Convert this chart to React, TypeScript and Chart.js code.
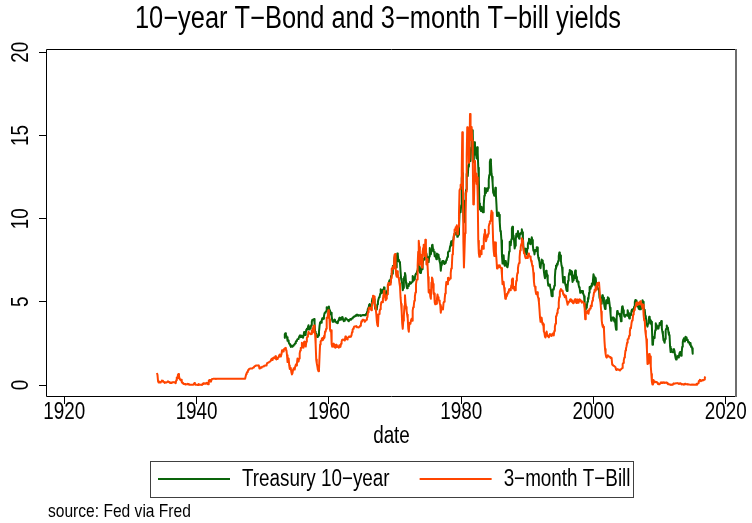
import React, { useEffect, useRef } from "react";
import { Chart, registerables } from "chart.js";

Chart.register(...registerables);

// ---------- text ----------
const TITLE = "10\u2212year T\u2212Bond and 3\u2212month T\u2212bill yields";
const X_TITLE = "date";
const NOTE = "source: Fed via Fred";
const SERIES_LABELS = ["Treasury 10\u2212year", "3\u2212month T\u2212Bill"];
const SERIES_COLORS = ["#0a640a", "#ff4500"];

// ---------- axes ----------
const X_TICKS = [1920, 1940, 1960, 1980, 2000, 2020];
const Y_TICKS = [0, 5, 10, 15, 20];
const X_MIN = 1917.23;
const X_MAX = 2021.7;
const Y_MIN = -0.72;
const Y_MAX = 20.2;

// ---------- 10-year Treasury, monthly, starting April 1953 ----------
const BOND_START = 1953 + 3 / 12;
const bond1950s = [
  2.83, 3.05, 3.11, 2.93, 2.95, 2.87, 2.66, 2.68, 2.59,
  2.48, 2.47, 2.37, 2.29, 2.37, 2.38, 2.30, 2.36, 2.38, 2.43, 2.48, 2.51,
  2.61, 2.65, 2.68, 2.75, 2.76, 2.78, 2.90, 2.97, 2.97, 2.88, 2.89, 2.96,
  2.90, 2.84, 2.96, 3.18, 3.07, 3.00, 3.11, 3.33, 3.38, 3.34, 3.49, 3.59,
  3.46, 3.34, 3.41, 3.48, 3.60, 3.80, 3.93, 3.93, 3.92, 3.97, 3.72, 3.21,
  3.09, 3.05, 2.98, 2.88, 2.92, 2.97, 3.20, 3.54, 3.76, 3.80, 3.74, 3.86,
  4.02, 3.96, 3.99, 4.12, 4.31, 4.34, 4.40, 4.43, 4.68, 4.53, 4.53, 4.69,
];
const bond1960s = [
  4.72, 4.49, 4.25, 4.28, 4.35, 4.15, 3.90, 3.80, 3.80, 3.89, 3.93, 3.84,
  3.84, 3.78, 3.74, 3.78, 3.71, 3.88, 3.92, 4.04, 3.98, 3.92, 3.94, 4.06,
  4.08, 4.04, 3.93, 3.84, 3.87, 3.91, 4.01, 3.98, 3.98, 3.93, 3.92, 3.86,
  3.83, 3.92, 3.93, 3.97, 3.93, 3.99, 4.02, 4.00, 4.08, 4.11, 4.12, 4.13,
  4.17, 4.15, 4.22, 4.23, 4.20, 4.17, 4.19, 4.19, 4.20, 4.19, 4.15, 4.18,
  4.19, 4.21, 4.21, 4.20, 4.21, 4.21, 4.20, 4.25, 4.29, 4.35, 4.45, 4.62,
  4.61, 4.83, 4.87, 4.75, 4.78, 4.81, 5.02, 5.22, 5.18, 5.01, 5.16, 4.84,
  4.58, 4.63, 4.54, 4.59, 4.85, 5.02, 5.16, 5.28, 5.30, 5.48, 5.75, 5.70,
  5.53, 5.56, 5.74, 5.64, 5.87, 5.72, 5.50, 5.42, 5.46, 5.58, 5.70, 6.03,
  6.04, 6.19, 6.30, 6.17, 6.32, 6.57, 6.72, 6.69, 7.16, 7.10, 7.14, 7.65,
];
const bond1970s = [
  7.79, 7.24, 7.07, 7.39, 7.91, 7.84, 7.46, 7.53, 7.39, 7.33, 6.84, 6.39,
  6.24, 6.11, 5.70, 5.83, 6.39, 6.52, 6.73, 6.58, 6.14, 5.93, 5.81, 5.93,
  5.95, 6.08, 6.07, 6.19, 6.13, 6.11, 6.11, 6.21, 6.55, 6.48, 6.28, 6.36,
  6.46, 6.64, 6.71, 6.67, 6.85, 6.90, 7.13, 7.40, 7.09, 6.79, 6.73, 6.74,
  6.99, 6.96, 7.21, 7.51, 7.58, 7.54, 7.81, 8.04, 8.04, 7.90, 7.68, 7.43,
  7.50, 7.39, 7.73, 8.23, 8.06, 7.86, 8.06, 8.40, 8.43, 8.14, 8.05, 8.00,
  7.74, 7.79, 7.73, 7.56, 7.90, 7.86, 7.83, 7.77, 7.59, 7.41, 7.29, 6.87,
  7.21, 7.39, 7.46, 7.37, 7.46, 7.28, 7.33, 7.40, 7.34, 7.52, 7.58, 7.69,
  7.96, 8.03, 8.04, 8.15, 8.35, 8.46, 8.64, 8.41, 8.42, 8.64, 8.81, 9.01,
  9.10, 9.10, 9.12, 9.18, 9.25, 8.91, 8.95, 9.03, 9.33, 10.30, 10.65, 10.39,
];
const bond1980s = [
  10.80, 12.41, 12.75, 11.47, 10.18, 9.78, 10.25, 11.10, 11.51, 11.75, 12.68, 12.84,
  12.57, 13.19, 13.12, 13.68, 14.10, 13.47, 14.28, 14.94, 15.32, 15.15, 13.39, 13.72,
  14.59, 14.43, 13.86, 13.87, 13.62, 14.30, 13.95, 13.06, 12.34, 10.91, 10.55, 10.54,
  10.46, 10.72, 10.51, 10.40, 10.38, 10.85, 11.38, 11.85, 11.65, 11.54, 11.69, 11.83,
  11.67, 11.84, 12.32, 12.63, 13.41, 13.56, 13.36, 12.72, 12.52, 12.16, 11.57, 11.50,
  11.38, 11.51, 11.86, 11.43, 10.85, 10.16, 10.31, 10.33, 10.37, 10.24, 9.78, 9.26,
  9.19, 8.70, 7.78, 7.30, 7.71, 7.80, 7.30, 7.17, 7.45, 7.43, 7.25, 7.11,
  7.08, 7.25, 7.25, 8.02, 8.61, 8.40, 8.45, 8.76, 9.42, 9.52, 8.86, 8.99,
  8.67, 8.21, 8.37, 8.72, 9.09, 8.92, 9.06, 9.26, 8.98, 8.80, 8.96, 9.11,
  9.09, 9.17, 9.36, 9.18, 8.86, 8.28, 8.02, 8.11, 8.19, 8.01, 7.87, 7.84,
];
const bond1990s = [
  8.21, 8.47, 8.59, 8.79, 8.76, 8.48, 8.47, 8.75, 8.89, 8.72, 8.39, 8.08,
  8.09, 7.85, 8.11, 8.04, 8.07, 8.28, 8.27, 7.90, 7.65, 7.53, 7.42, 7.09,
  7.03, 7.34, 7.54, 7.48, 7.39, 7.26, 6.84, 6.59, 6.42, 6.59, 6.87, 6.77,
  6.60, 6.26, 5.98, 5.97, 6.04, 5.96, 5.81, 5.68, 5.36, 5.33, 5.72, 5.77,
  5.75, 5.97, 6.48, 6.97, 7.18, 7.10, 7.30, 7.24, 7.46, 7.74, 7.96, 7.81,
  7.78, 7.47, 7.20, 7.06, 6.63, 6.17, 6.28, 6.49, 6.20, 6.04, 5.93, 5.71,
  5.65, 5.81, 6.27, 6.51, 6.74, 6.91, 6.87, 6.64, 6.83, 6.53, 6.20, 6.30,
  6.58, 6.42, 6.69, 6.89, 6.71, 6.49, 6.22, 6.30, 6.21, 6.03, 5.88, 5.81,
  5.54, 5.57, 5.65, 5.64, 5.65, 5.50, 5.46, 5.34, 4.81, 4.53, 4.83, 4.65,
  4.72, 5.00, 5.23, 5.18, 5.54, 5.90, 5.79, 5.94, 5.92, 6.11, 6.03, 6.28,
];
const bond2000s = [
  6.66, 6.52, 6.26, 5.99, 6.44, 6.10, 6.05, 5.83, 5.80, 5.74, 5.72, 5.24,
  5.16, 5.10, 4.89, 5.14, 5.39, 5.28, 5.24, 4.97, 4.73, 4.57, 4.65, 5.09,
  5.04, 4.91, 5.28, 5.21, 5.16, 4.93, 4.65, 4.26, 3.87, 3.94, 4.05, 4.03,
  4.05, 3.90, 3.81, 3.96, 3.57, 3.33, 3.98, 4.45, 4.27, 4.29, 4.30, 4.27,
  4.15, 4.08, 3.83, 4.35, 4.72, 4.73, 4.50, 4.28, 4.13, 4.10, 4.19, 4.23,
  4.22, 4.17, 4.50, 4.34, 4.14, 4.00, 4.18, 4.26, 4.20, 4.46, 4.54, 4.47,
  4.42, 4.57, 4.72, 4.99, 5.11, 5.11, 5.09, 4.88, 4.72, 4.73, 4.60, 4.56,
  4.76, 4.72, 4.56, 4.69, 4.75, 5.10, 5.00, 4.67, 4.52, 4.53, 4.15, 4.10,
  3.74, 3.74, 3.51, 3.68, 3.88, 4.10, 4.01, 3.89, 3.69, 3.81, 3.53, 2.42,
  2.52, 2.87, 2.82, 2.93, 3.29, 3.72, 3.56, 3.59, 3.40, 3.39, 3.40, 3.59,
];
const bond2010s = [
  3.73, 3.69, 3.73, 3.85, 3.42, 3.20, 3.01, 2.70, 2.65, 2.54, 2.76, 3.29,
  3.39, 3.58, 3.41, 3.46, 3.17, 3.00, 3.00, 2.30, 1.98, 2.15, 2.01, 1.98,
  1.97, 1.97, 2.17, 2.05, 1.80, 1.62, 1.53, 1.68, 1.72, 1.75, 1.65, 1.72,
  1.91, 1.98, 1.96, 1.76, 1.93, 2.30, 2.58, 2.74, 2.81, 2.62, 2.72, 2.90,
  2.86, 2.71, 2.72, 2.71, 2.56, 2.60, 2.54, 2.42, 2.53, 2.30, 2.33, 2.21,
  1.88,
];

// ---------- 3-month T-bill, monthly, starting January 1934 ----------
const TBILL_START = 1934;
const tbill1930s = [
  0.72, 0.62, 0.24, 0.15, 0.16, 0.15, 0.15, 0.19, 0.21, 0.27, 0.25, 0.23,
  0.19, 0.17, 0.13, 0.15, 0.16, 0.15, 0.15, 0.19, 0.22, 0.20, 0.17, 0.15,
  0.12, 0.15, 0.12, 0.15, 0.17, 0.17, 0.16, 0.18, 0.18, 0.14, 0.11, 0.28,
  0.45, 0.41, 0.60, 0.66, 0.55, 0.40, 0.32, 0.30, 0.32, 0.18, 0.13, 0.10,
  0.08, 0.06, 0.06, 0.05, 0.03, 0.05, 0.05, 0.05, 0.07, 0.06, 0.03, 0.01,
  0.01, 0.01, 0.01, 0.01, 0.01, 0.01, 0.02, 0.02, 0.12, 0.04, 0.02, 0.01,
];
const tbill1940s = [
  0.01, 0.01, 0.00, 0.00, 0.06, 0.01, 0.01, 0.02, 0.02, 0.01, 0.00, 0.00,
  0.10, 0.06, 0.09, 0.10, 0.07, 0.09, 0.13, 0.11, 0.06, 0.05, 0.25, 0.30,
  0.23, 0.30, 0.20, 0.30, 0.36, 0.36, 0.37, 0.37, 0.37, 0.37, 0.37, 0.36,
  0.37, 0.37, 0.37, 0.37, 0.37, 0.37, 0.37, 0.37, 0.37, 0.37, 0.37, 0.37,
  0.37, 0.37, 0.37, 0.37, 0.37, 0.37, 0.37, 0.37, 0.37, 0.37, 0.37, 0.37,
  0.37, 0.37, 0.37, 0.37, 0.37, 0.37, 0.37, 0.37, 0.37, 0.37, 0.37, 0.37,
  0.37, 0.37, 0.37, 0.37, 0.37, 0.37, 0.37, 0.37, 0.37, 0.37, 0.37, 0.37,
  0.38, 0.38, 0.38, 0.38, 0.38, 0.38, 0.66, 0.74, 0.79, 0.85, 0.92, 0.95,
  0.97, 1.00, 1.00, 1.00, 1.00, 1.00, 1.00, 1.05, 1.09, 1.12, 1.14, 1.16,
  1.17, 1.17, 1.17, 1.17, 1.17, 1.16, 0.99, 1.02, 1.06, 1.04, 1.07, 1.10,
];
const tbill1950s = [
  1.10, 1.12, 1.14, 1.16, 1.17, 1.17, 1.17, 1.21, 1.32, 1.33, 1.36, 1.37,
  1.39, 1.39, 1.42, 1.52, 1.58, 1.50, 1.59, 1.64, 1.65, 1.61, 1.61, 1.73,
  1.57, 1.54, 1.59, 1.57, 1.67, 1.70, 1.81, 1.83, 1.71, 1.74, 1.85, 2.09,
  2.04, 2.02, 2.08, 2.18, 2.20, 2.23, 2.10, 2.09, 1.79, 1.38, 1.44, 1.60,
  1.18, 0.97, 1.03, 0.96, 0.76, 0.64, 0.72, 0.92, 1.01, 0.98, 0.93, 1.14,
  1.23, 1.17, 1.28, 1.59, 1.45, 1.41, 1.60, 1.90, 2.07, 2.23, 2.24, 2.54,
  2.41, 2.32, 2.25, 2.60, 2.61, 2.49, 2.31, 2.60, 2.84, 2.90, 2.99, 3.21,
  3.11, 3.10, 3.08, 3.06, 3.06, 3.29, 3.16, 3.37, 3.53, 3.58, 3.29, 3.04,
  2.44, 1.53, 1.30, 1.13, 0.91, 0.83, 0.91, 1.69, 2.44, 2.63, 2.67, 2.77,
  2.82, 2.70, 2.80, 2.95, 2.84, 3.21, 3.20, 3.38, 4.04, 4.05, 4.15, 4.49,
];
const tbill1960s = [
  4.35, 3.96, 3.31, 3.23, 3.29, 2.46, 2.30, 2.30, 2.48, 2.30, 2.37, 2.25,
  2.24, 2.42, 2.39, 2.29, 2.29, 2.33, 2.24, 2.39, 2.28, 2.30, 2.48, 2.60,
  2.72, 2.73, 2.72, 2.73, 2.68, 2.73, 2.92, 2.82, 2.78, 2.74, 2.83, 2.87,
  2.91, 2.92, 2.89, 2.90, 2.92, 2.99, 3.18, 3.32, 3.38, 3.45, 3.52, 3.52,
  3.52, 3.53, 3.54, 3.47, 3.48, 3.48, 3.46, 3.50, 3.53, 3.57, 3.64, 3.84,
  3.81, 3.93, 3.93, 3.93, 3.89, 3.80, 3.84, 3.84, 3.92, 4.03, 4.09, 4.38,
  4.59, 4.65, 4.59, 4.62, 4.64, 4.50, 4.80, 4.96, 5.37, 5.35, 5.32, 4.96,
  4.72, 4.56, 4.26, 3.84, 3.60, 3.54, 4.21, 4.27, 4.42, 4.56, 4.73, 4.97,
  5.00, 4.98, 5.17, 5.38, 5.66, 5.52, 5.31, 5.09, 5.19, 5.35, 5.45, 5.96,
  6.14, 6.12, 6.02, 6.11, 6.04, 6.44, 7.00, 6.98, 7.09, 7.00, 7.24, 7.82,
];
const tbill1970s = [
  7.87, 7.13, 6.63, 6.51, 6.84, 6.68, 6.45, 6.41, 6.12, 5.91, 5.28, 4.87,
  4.44, 3.70, 3.38, 3.86, 4.14, 4.75, 5.40, 4.94, 4.69, 4.46, 4.22, 4.01,
  3.38, 3.20, 3.73, 3.71, 3.69, 3.91, 3.98, 3.86, 4.47, 4.68, 4.77, 5.06,
  5.31, 5.56, 6.05, 6.29, 6.35, 7.19, 8.01, 8.67, 8.29, 7.22, 7.83, 7.45,
  7.76, 7.06, 7.99, 8.23, 8.43, 8.14, 7.75, 8.74, 8.36, 7.24, 7.58, 7.18,
  6.49, 5.58, 5.54, 5.69, 5.32, 5.19, 6.16, 6.46, 6.38, 6.08, 5.47, 5.50,
  4.96, 4.85, 5.05, 4.88, 5.18, 5.44, 5.28, 5.15, 5.08, 4.93, 4.81, 4.35,
  4.60, 4.66, 4.61, 4.54, 4.94, 5.00, 5.15, 5.50, 5.77, 6.19, 6.16, 6.06,
  6.44, 6.45, 6.29, 6.29, 6.41, 6.73, 7.01, 7.08, 7.85, 7.99, 8.64, 9.08,
  9.35, 9.32, 9.48, 9.46, 9.61, 9.06, 9.24, 9.52, 10.26, 11.70, 11.79, 12.04,
];
const tbill1980s = [
  12.00, 12.86, 15.20, 13.20, 8.58, 7.07, 8.06, 9.13, 10.27, 11.62, 13.73, 15.49,
  15.02, 14.79, 13.36, 13.69, 16.30, 14.73, 14.95, 15.51, 14.70, 13.54, 10.86, 10.85,
  12.28, 13.48, 12.68, 12.70, 12.09, 12.47, 11.35, 8.68, 7.92, 7.71, 8.07, 7.94,
  7.86, 8.11, 8.35, 8.21, 8.19, 8.79, 9.08, 9.34, 9.00, 8.64, 8.76, 9.00,
  8.90, 9.09, 9.52, 9.69, 9.83, 9.87, 10.12, 10.47, 10.37, 9.74, 8.61, 8.06,
  7.76, 8.22, 8.57, 8.00, 7.56, 7.01, 7.05, 7.18, 7.08, 7.17, 7.20, 7.07,
  7.04, 7.03, 6.59, 6.06, 6.12, 6.21, 5.84, 5.57, 5.19, 5.18, 5.35, 5.49,
  5.45, 5.59, 5.56, 5.76, 5.75, 5.69, 5.78, 6.00, 6.32, 6.40, 5.81, 5.80,
  5.90, 5.69, 5.69, 5.92, 6.27, 6.50, 6.73, 7.02, 7.23, 7.34, 7.68, 8.09,
  8.29, 8.48, 8.83, 8.70, 8.40, 8.22, 7.92, 7.91, 7.72, 7.63, 7.65, 7.64,
];
const tbill1990s = [
  7.64, 7.74, 7.90, 7.77, 7.74, 7.73, 7.62, 7.45, 7.36, 7.17, 7.06, 6.74,
  6.22, 5.94, 5.91, 5.65, 5.46, 5.57, 5.58, 5.33, 5.22, 4.99, 4.56, 4.07,
  3.80, 3.84, 4.04, 3.75, 3.63, 3.66, 3.21, 3.13, 2.91, 2.86, 3.13, 3.22,
  3.00, 2.93, 2.95, 2.87, 2.96, 3.07, 3.04, 3.02, 2.95, 3.02, 3.10, 3.06,
  2.98, 3.25, 3.50, 3.68, 4.14, 4.14, 4.33, 4.48, 4.62, 4.95, 5.29, 5.60,
  5.71, 5.77, 5.73, 5.65, 5.67, 5.47, 5.42, 5.40, 5.28, 5.28, 5.36, 5.14,
  5.00, 4.83, 4.96, 4.95, 5.02, 5.09, 5.15, 5.05, 5.09, 4.99, 5.03, 4.91,
  5.03, 5.01, 5.14, 5.16, 5.05, 4.93, 5.05, 5.14, 4.95, 4.97, 5.14, 5.16,
  5.04, 5.09, 5.03, 4.95, 5.00, 4.98, 4.96, 4.90, 4.61, 3.96, 4.41, 4.39,
  4.34, 4.45, 4.48, 4.28, 4.51, 4.59, 4.60, 4.76, 4.73, 4.88, 5.07, 5.23,
];
const tbill2000s = [
  5.34, 5.57, 5.72, 5.67, 5.92, 5.74, 6.03, 6.13, 6.01, 6.11, 6.17, 5.77,
  5.15, 4.88, 4.42, 3.87, 3.62, 3.49, 3.51, 3.36, 2.64, 2.16, 1.87, 1.69,
  1.65, 1.73, 1.79, 1.72, 1.73, 1.70, 1.68, 1.62, 1.63, 1.58, 1.23, 1.19,
  1.17, 1.17, 1.13, 1.13, 1.07, 0.92, 0.90, 0.95, 0.94, 0.92, 0.93, 0.90,
  0.88, 0.93, 0.94, 0.94, 1.02, 1.27, 1.33, 1.48, 1.65, 1.76, 2.07, 2.19,
  2.33, 2.54, 2.74, 2.78, 2.84, 2.97, 3.22, 3.44, 3.42, 3.71, 3.88, 3.89,
  4.24, 4.43, 4.51, 4.60, 4.72, 4.79, 4.95, 4.96, 4.81, 4.92, 4.94, 4.85,
  4.98, 5.03, 4.94, 4.87, 4.73, 4.61, 4.82, 4.20, 3.89, 3.90, 3.27, 3.00,
  2.75, 2.12, 1.26, 1.29, 1.73, 1.86, 1.63, 1.72, 1.13, 0.67, 0.19, 0.03,
  0.13, 0.30, 0.22, 0.16, 0.18, 0.18, 0.18, 0.17, 0.12, 0.07, 0.05, 0.05,
];
const tbill2010s = [
  0.06, 0.11, 0.15, 0.16, 0.16, 0.12, 0.16, 0.16, 0.15, 0.13, 0.14, 0.14,
  0.15, 0.13, 0.10, 0.06, 0.04, 0.04, 0.04, 0.02, 0.01, 0.02, 0.01, 0.01,
  0.03, 0.09, 0.08, 0.08, 0.09, 0.09, 0.10, 0.10, 0.11, 0.10, 0.09, 0.07,
  0.07, 0.10, 0.09, 0.06, 0.04, 0.05, 0.04, 0.04, 0.02, 0.05, 0.07, 0.07,
  0.04, 0.05, 0.05, 0.03, 0.03, 0.04, 0.03, 0.03, 0.02, 0.02, 0.02, 0.03,
  0.03, 0.02, 0.03, 0.02, 0.02, 0.02, 0.03, 0.07, 0.02, 0.02, 0.12, 0.23,
  0.26, 0.31, 0.29, 0.23, 0.27, 0.27, 0.30, 0.30, 0.29, 0.33, 0.45, 0.51,
];

function monthly(start: number, chunks: number[][]) {
  const vals = ([] as number[]).concat(...chunks);
  return vals.map((y, i) => ({ x: start + i / 12, y }));
}

// Stata's condensed Helvetica look: Liberation Sans squeezed horizontally
const FAMILY = '"Liberation Sans", Arial, Helvetica, sans-serif';
const SQUEEZE = 0.82;
const FS = { title: 31, tick: 23, axis: 23, legend: 23, note: 19 };

function narrowText(
  ctx: CanvasRenderingContext2D,
  text: string,
  x: number,
  y: number,
  size: number,
  align: CanvasTextAlign,
  rotation = 0
) {
  ctx.save();
  ctx.translate(x, y);
  if (rotation) ctx.rotate(rotation);
  ctx.scale(SQUEEZE, 1);
  ctx.font = `${size}px ${FAMILY}`;
  ctx.fillStyle = "#000";
  ctx.textAlign = align;
  ctx.textBaseline = "middle";
  ctx.fillText(text, 0, 0);
  ctx.restore();
}

function narrowWidth(ctx: CanvasRenderingContext2D, text: string, size: number) {
  ctx.save();
  ctx.font = `${size}px ${FAMILY}`;
  const w = ctx.measureText(text).width * SQUEEZE;
  ctx.restore();
  return w;
}

export default function App() {
  const ref = useRef<HTMLCanvasElement | null>(null);

  useEffect(() => {
    document.body.style.margin = "0";
    const canvas = ref.current;
    if (!canvas) return;

    const AREA_TOP = 49;
    const AREA_LEFT = 46;
    const AREA_RIGHT = 737;
    const AREA_BOTTOM = 397;
    const X_AXIS_BOTTOM = 453;
    const TICK_LEN = 7;

    const textPlugin = {
      id: "stataText",
      afterDraw(chart: any) {
        const { ctx, chartArea: a, scales } = chart;
        ctx.save();
        // plot region outline
        ctx.strokeStyle = "#000";
        ctx.lineWidth = 1;
        ctx.beginPath();
        ctx.moveTo(Math.round(a.right) - 0.5, Math.round(a.top) + 0.5);
        ctx.lineTo(Math.round(a.left) + 0.5, Math.round(a.top) + 0.5);
        ctx.lineTo(Math.round(a.left) + 0.5, Math.round(a.bottom) - 0.5);
        ctx.lineTo(Math.round(a.right) - 0.5, Math.round(a.bottom) - 0.5);
        ctx.stroke();
        ctx.strokeStyle = "#6e6e6e";
        ctx.lineWidth = 2;
        ctx.beginPath();
        ctx.moveTo(Math.round(a.right) - 1, Math.round(a.top));
        ctx.lineTo(Math.round(a.right) - 1, Math.round(a.bottom));
        ctx.stroke();
        ctx.restore();

        // title
        narrowText(ctx, TITLE, 378, 19, FS.title, "center");

        // tick labels, placed through the scales
        X_TICKS.forEach((v) => {
          narrowText(ctx, String(v), scales.x.getPixelForValue(v), 413, FS.tick, "center");
        });
        Y_TICKS.forEach((v) => {
          narrowText(ctx, String(v), 21.5, scales.y.getPixelForValue(v), FS.tick, "center", -Math.PI / 2);
        });

        // axis title
        narrowText(ctx, X_TITLE, (a.left + a.right) / 2, 437, FS.axis, "center");

        // legend
        const ds = chart.data.datasets;
        const w = ds.map((d: any) => narrowWidth(ctx, d.label, FS.legend));
        const PAD_L = 8, KEY = 72, GAP_KT = 12, GAP_COL = 30, PAD_R = 3;
        const boxW = PAD_L + KEY + GAP_KT + w[0] + GAP_COL + KEY + GAP_KT + w[1] + PAD_R;
        const cx = (a.left + a.right) / 2;
        const boxL = Math.round(cx - boxW / 2);
        const boxT = 461, boxH = 36;
        const midY = boxT + boxH / 2;
        ctx.save();
        ctx.strokeStyle = "#404040";
        ctx.lineWidth = 1;
        ctx.strokeRect(boxL + 0.5, boxT + 0.5, Math.round(boxW), boxH);
        let x = boxL + PAD_L;
        ds.forEach((d: any, i: number) => {
          ctx.strokeStyle = d.borderColor;
          ctx.lineWidth = 2;
          ctx.beginPath();
          ctx.moveTo(x, midY);
          ctx.lineTo(x + KEY, midY);
          ctx.stroke();
          x += KEY + GAP_KT;
          narrowText(ctx, d.label, x, midY + 1, FS.legend, "left");
          x += w[i] + GAP_COL;
        });
        ctx.restore();

        // note
        narrowText(ctx, NOTE, 48, 512, FS.note, "left");
      },
    };

    const gridOpts = {
      display: true,
      drawOnChartArea: false,
      drawTicks: true,
      tickLength: TICK_LEN,
      color: "#000",
      lineWidth: 1,
    };

    const chart = new Chart(canvas, {
      type: "line",
      data: {
        datasets: [
          {
            label: SERIES_LABELS[0],
            data: monthly(BOND_START, [bond1950s, bond1960s, bond1970s, bond1980s, bond1990s, bond2000s, bond2010s]),
            borderColor: SERIES_COLORS[0],
            backgroundColor: SERIES_COLORS[0],
            borderWidth: 2,
            pointRadius: 0,
            tension: 0,
            fill: false,
            borderJoinStyle: "round",
            order: 1,
          },
          {
            label: SERIES_LABELS[1],
            data: monthly(TBILL_START, [tbill1930s, tbill1940s, tbill1950s, tbill1960s, tbill1970s, tbill1980s, tbill1990s, tbill2000s, tbill2010s]),
            borderColor: SERIES_COLORS[1],
            backgroundColor: SERIES_COLORS[1],
            borderWidth: 2,
            pointRadius: 0,
            tension: 0,
            fill: false,
            borderJoinStyle: "round",
            order: 0,
          },
        ],
      },
      options: {
        animation: false,
        responsive: true,
        maintainAspectRatio: false,
        devicePixelRatio: 1,
        parsing: false as any,
        layout: {
          padding: { left: 0, right: 752 - AREA_RIGHT, top: AREA_TOP, bottom: 523 - X_AXIS_BOTTOM },
        },
        plugins: {
          legend: { display: false },
          tooltip: { enabled: false },
          title: { display: false },
        },
        scales: {
          x: {
            type: "linear",
            min: X_MIN,
            max: X_MAX,
            afterBuildTicks: (s: any) => {
              s.ticks = X_TICKS.map((value) => ({ value }));
            },
            afterFit: (s: any) => {
              s.height = X_AXIS_BOTTOM - AREA_BOTTOM;
              s.paddingLeft = 0;
              s.paddingRight = 0;
            },
            ticks: { display: false, autoSkip: false },
            grid: gridOpts,
            border: { display: false },
          },
          y: {
            type: "linear",
            min: Y_MIN,
            max: Y_MAX,
            afterBuildTicks: (s: any) => {
              s.ticks = Y_TICKS.map((value) => ({ value }));
            },
            afterFit: (s: any) => {
              s.width = AREA_LEFT;
              s.paddingTop = 0;
              s.paddingBottom = 0;
            },
            ticks: { display: false, autoSkip: false },
            grid: gridOpts,
            border: { display: false },
          },
        },
      },
      plugins: [textPlugin],
    } as any);

    return () => chart.destroy();
  }, []);

  return (
    <div style={{ position: "relative", width: 752, height: 523 }}>
      <canvas ref={ref} />
    </div>
  );
}
